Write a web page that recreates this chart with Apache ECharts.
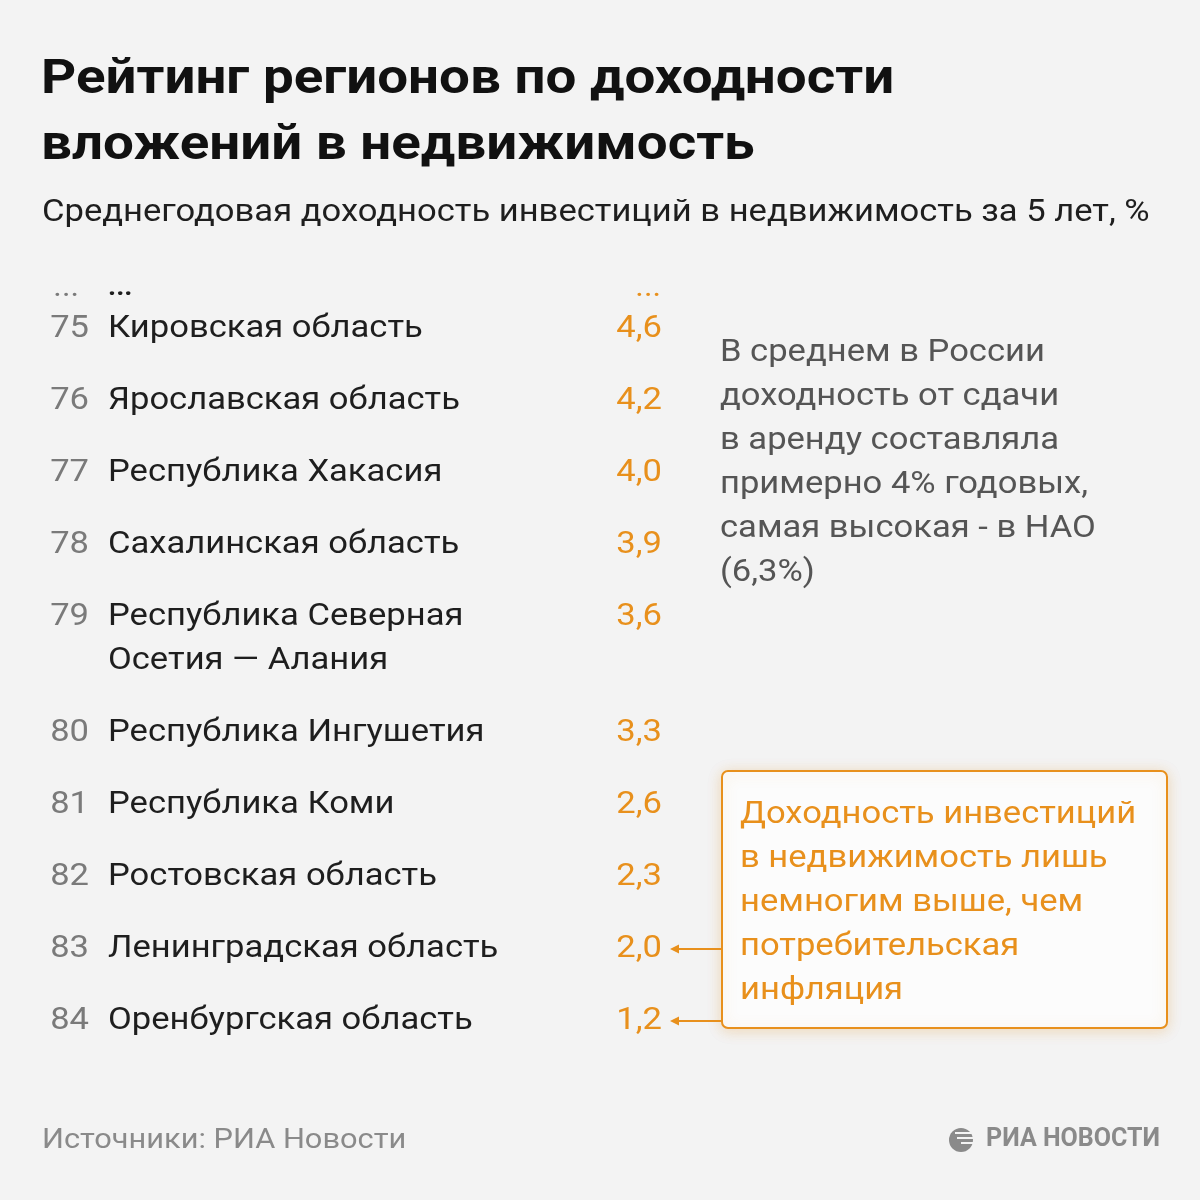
<!DOCTYPE html>
<html><head><meta charset="utf-8">
<script src="https://cdn.jsdelivr.net/npm/echarts@6/dist/echarts.min.js"></script>
<style>html,body{margin:0;padding:0;background:#f3f3f3}#c{width:1200px;height:1200px}</style>
</head><body><div id="c"></div>
<script>
const ranks = [75, 76, 77, 78, 79, 80, 81, 82, 83, 84];
const regions = ['Кировская область', 'Ярославская область', 'Республика Хакасия', 'Сахалинская область',
  'Республика Северная\nОсетия — Алания', 'Республика Ингушетия', 'Республика Коми', 'Ростовская область',
  'Ленинградская область', 'Оренбургская область'];
const values = [4.6, 4.2, 4.0, 3.9, 3.6, 3.3, 2.6, 2.3, 2.0, 1.2];
const highlighted = [83, 84];
const titleText = 'Рейтинг регионов по доходности\nвложений в недвижимость';
const subtitleText = 'Среднегодовая доходность инвестиций в недвижимость за 5 лет, %';
const noteText = 'В среднем в России\nдоходность от сдачи\nв аренду составляла\nпримерно 4% годовых,\nсамая высокая - в НАО\n(6,3%)';
const calloutText = 'Доходность инвестиций\nв недвижимость лишь\nнемногим выше, чем\nпотребительская\nинфляция';
const sourceText = 'Источники: РИА Новости';
const logoText = 'РИА НОВОСТИ';

const ORANGE = '#e8901c', GRAY = '#7a7a7a', DARK = '#1e1e1e';
const FONT = 'Roboto, "Noto Sans", sans-serif';
const SX = 1.08;

// row positions (in row units; an extra text line adds 44/72 of a row)
const rows = [];
let pos = 0;
rows.push([0, -0.5, -1]); // ellipsis row
for (let i = 0; i < ranks.length; i++) {
  rows.push([0, pos, i]);
  const lines = regions[i].split('\n').length;
  pos += 1 + (lines - 1) * 44 / 72;
}
const yMax = pos - 1;

const chart = echarts.init(document.getElementById('c'));
const gridTop = 293;
const unit = 72;
const gridH = (yMax + 0.5) * unit;

function renderItem(params, api) {
  const idx = api.value(2);
  const cy = api.coord([0, api.value(1)])[1];
  const children = [];
  const txt = (x, text, color, align, fs, weight) => ({
    type: 'text', x: x, y: cy - 22, scaleX: SX,
    style: { text: text, fill: color, font: (weight || 'normal') + ' ' + (fs || 32) + 'px ' + FONT, align: align, verticalAlign: 'top', lineHeight: 44 }
  });
  if (idx < 0) {
    children.push(txt(79, '...', GRAY, 'right', 30));
    children.push(txt(108, '...', DARK, 'left', 26, 'bold'));
    children.push(txt(661, '...', ORANGE, 'right', 30));
    children.forEach(c => { c.y = cy - 27; });
  } else {
    children.push(txt(89, String(ranks[idx]), GRAY, 'right'));
    children.push(txt(108, regions[idx], DARK, 'left'));
    children.push(txt(662, values[idx].toFixed(1).replace('.', ','), ORANGE, 'right'));
    if (highlighted.indexOf(ranks[idx]) >= 0) {
      children.push({ type: 'line', shape: { x1: 674, y1: cy, x2: 722, y2: cy }, style: { stroke: ORANGE, lineWidth: 2 } });
      children.push({ type: 'polygon', shape: { points: [[670, cy], [679, cy - 4.5], [679, cy + 4.5]] }, style: { fill: ORANGE } });
    }
  }
  return { type: 'group', children: children };
}

const gtext = (x, y, text, fill, font, lh, sx) => ({
  type: 'text', x: x, y: y, scaleX: sx || SX,
  style: { text: text, fill: fill, font: font, lineHeight: lh, verticalAlign: 'top' }
});

chart.setOption({
  backgroundColor: '#f3f3f3',
  animation: false,
  grid: { left: 0, right: 0, top: gridTop, height: gridH },
  xAxis: { type: 'value', min: 0, max: 1200, show: false },
  yAxis: { type: 'value', min: -0.5, max: yMax, inverse: true, show: false },
  series: [{ type: 'custom', renderItem: renderItem, data: rows, clip: false, silent: true }],
  graphic: [
    gtext(41, 48, titleText, '#111', 'bold 48px ' + FONT, 66, 1.14),
    gtext(42, 193, subtitleText, DARK, '32px ' + FONT, 40),
    gtext(720, 331, noteText, '#555', '32px ' + FONT, 44),
    { type: 'rect', x: 722, y: 771, shape: { width: 445, height: 257, r: 6 },
      style: { fill: '#fcfcfc', stroke: ORANGE, lineWidth: 2, shadowBlur: 14, shadowColor: 'rgba(232,144,28,0.25)', shadowOffsetY: 2 } },
    gtext(740, 793, calloutText, ORANGE, '32px ' + FONT, 44),
    gtext(42, 1124, sourceText, '#8a8a8a', '28.5px ' + FONT, 34),
    { type: 'text', x: 1160, y: 1127, style: { text: logoText, fill: '#8a8a8a', font: 'bold 25px ' + FONT, align: 'right', verticalAlign: 'top' } },
    { type: 'group', x: 949, y: 1128, children: [
      { type: 'circle', shape: { cx: 12, cy: 12, r: 12 }, style: { fill: '#8a8a8a' } },
      { type: 'line', shape: { x1: 6, y1: 5, x2: 24, y2: 5 }, style: { stroke: '#f3f3f3', lineWidth: 2 } },
      { type: 'line', shape: { x1: 8, y1: 10, x2: 24, y2: 10 }, style: { stroke: '#f3f3f3', lineWidth: 2 } },
      { type: 'line', shape: { x1: 12, y1: 15, x2: 24, y2: 15 }, style: { stroke: '#f3f3f3', lineWidth: 2 } }
    ] }
  ]
});
</script></body></html>
